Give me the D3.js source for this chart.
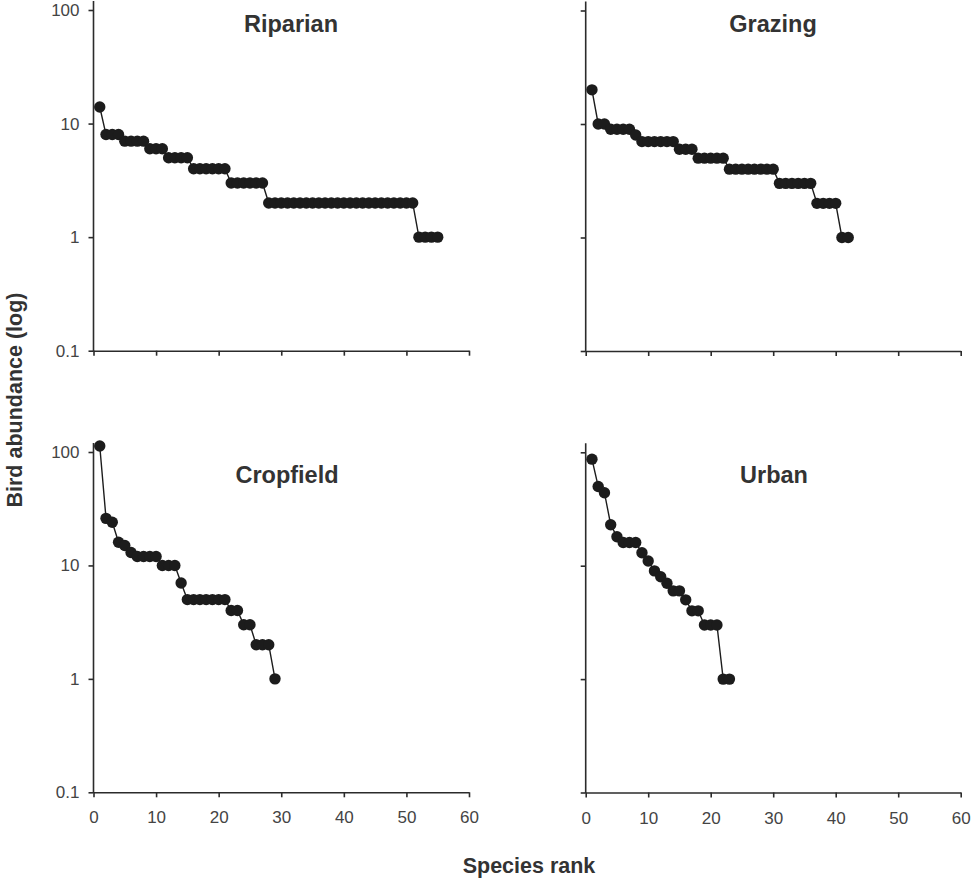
<!DOCTYPE html>
<html><head><meta charset="utf-8">
<script src="https://cdn.jsdelivr.net/npm/d3@7/dist/d3.min.js"></script>
<style>
body{margin:0;background:#fff;}
svg{display:block;font-family:"Liberation Sans",Arial,sans-serif;}
</style></head>
<body>
<svg id="chart" width="973" height="880"></svg>
<script>
// ---- data ----
const habitats = ["Riparian", "Grazing", "Cropfield", "Urban"];
const riparian = [14, 8, 8, 8, 7, 7, 7, 7, 6, 6, 6, 5, 5, 5, 5, 4, 4, 4, 4, 4, 4, 3, 3, 3, 3, 3, 3,
  2, 2, 2, 2, 2, 2, 2, 2, 2, 2, 2, 2, 2, 2, 2, 2, 2, 2, 2, 2, 2, 2, 2, 2, 1, 1, 1, 1];
const grazing = [20, 10, 10, 9, 9, 9, 9, 8, 7, 7, 7, 7, 7, 7, 6, 6, 6, 5, 5, 5, 5, 5,
  4, 4, 4, 4, 4, 4, 4, 4, 3, 3, 3, 3, 3, 3, 2, 2, 2, 2, 1, 1];
const cropfield = [113, 26, 24, 16, 15, 13, 12, 12, 12, 12, 10, 10, 10, 7, 5, 5, 5, 5, 5, 5, 5,
  4, 4, 3, 3, 2, 2, 2, 1];
const urban = [87, 50, 44, 23, 18, 16, 16, 16, 13, 11, 9, 8, 7, 6, 6, 5, 4, 4, 3, 3, 3, 1, 1];
const xTicks = [0, 10, 20, 30, 40, 50, 60];
const yTicks = [0.1, 1, 10, 100];
const yTickLabels = ["0.1", "1", "10", "100"];
const xTitle = "Species rank";
const yTitle = "Bird abundance (log)";
const seriesList = [riparian, grazing, cropfield, urban];

// ---- layout ----
const panels = [
  {x0: 93.5, x1: 469, yTop: 10, yBot: 350.7, showY: true, showX: false, tx: 291, ty: 32},
  {x0: 585.7, x1: 960.7, yTop: 10.5, yBot: 351, showY: false, showX: false, tx: 773, ty: 32},
  {x0: 93.5, x1: 469, yTop: 452, yBot: 792.3, showY: true, showX: true, tx: 287, ty: 483},
  {x0: 585.7, x1: 960.7, yTop: 452.3, yBot: 792.5, showY: false, showX: true, tx: 774, ty: 483}
];
const ink = "#1c1c1c";
const axisCol = "#2b2b2b";
const labelCol = "#444";

const svg = d3.select("#chart");

panels.forEach((p, i) => {
  const data = seriesList[i].map((v, k) => ({rank: k + 1, v: v}));
  const x = d3.scaleLinear().domain([0, 60]).range([p.x0, p.x1]);
  const y = d3.scaleLog().domain([0.1, 100]).range([p.yBot, p.yTop]);
  const g = svg.append("g");

  // x axis
  const xa = g.append("g").attr("transform", `translate(0,${p.yBot})`)
    .call(d3.axisBottom(x).tickValues(xTicks).tickSize(5).tickSizeOuter(0).tickPadding(14)
      .tickFormat(p.showX ? d3.format("d") : () => ""));
  xa.selectAll("path,line").attr("stroke", axisCol).attr("stroke-width", 1.6);
  xa.selectAll("text").attr("fill", labelCol).style("font-size", "17px");

  // y axis
  const ya = g.append("g").attr("transform", `translate(${p.x0},0)`)
    .call(d3.axisLeft(y).tickValues(yTicks).tickSize(5).tickSizeOuter(0).tickPadding(9)
      .tickFormat((d, j) => p.showY ? yTickLabels[j] : ""));
  ya.select("path.domain").remove();
  ya.selectAll("line").attr("stroke", axisCol).attr("stroke-width", 1.6);
  ya.selectAll("text").attr("fill", labelCol).style("font-size", "17px");
  g.append("line").attr("x1", p.x0).attr("x2", p.x0)
    .attr("y1", y(100) - 9).attr("y2", p.yBot + 0.8)
    .attr("stroke", axisCol).attr("stroke-width", 1.6);

  // line + points
  const line = d3.line().x(d => x(d.rank)).y(d => y(d.v));
  g.append("path").datum(data).attr("d", line)
    .attr("fill", "none").attr("stroke", ink).attr("stroke-width", 1.4);
  g.selectAll("circle").data(data).enter().append("circle")
    .attr("cx", d => x(d.rank)).attr("cy", d => y(d.v)).attr("r", 5.7)
    .attr("fill", ink);

  // title
  g.append("text").attr("x", p.tx).attr("y", p.ty).attr("text-anchor", "middle")
    .attr("fill", "#333").style("font-size", "23.5px").style("font-weight", "bold")
    .text(habitats[i]);
});

svg.append("text").attr("x", 529).attr("y", 873).attr("text-anchor", "middle")
  .attr("fill", "#333").style("font-size", "21.5px").style("font-weight", "bold").text(xTitle);
svg.append("text").attr("transform", "translate(21.5,400) rotate(-90)").attr("text-anchor", "middle")
  .attr("fill", "#333").style("font-size", "21.5px").style("font-weight", "bold").text(yTitle);
</script>
</body></html>
